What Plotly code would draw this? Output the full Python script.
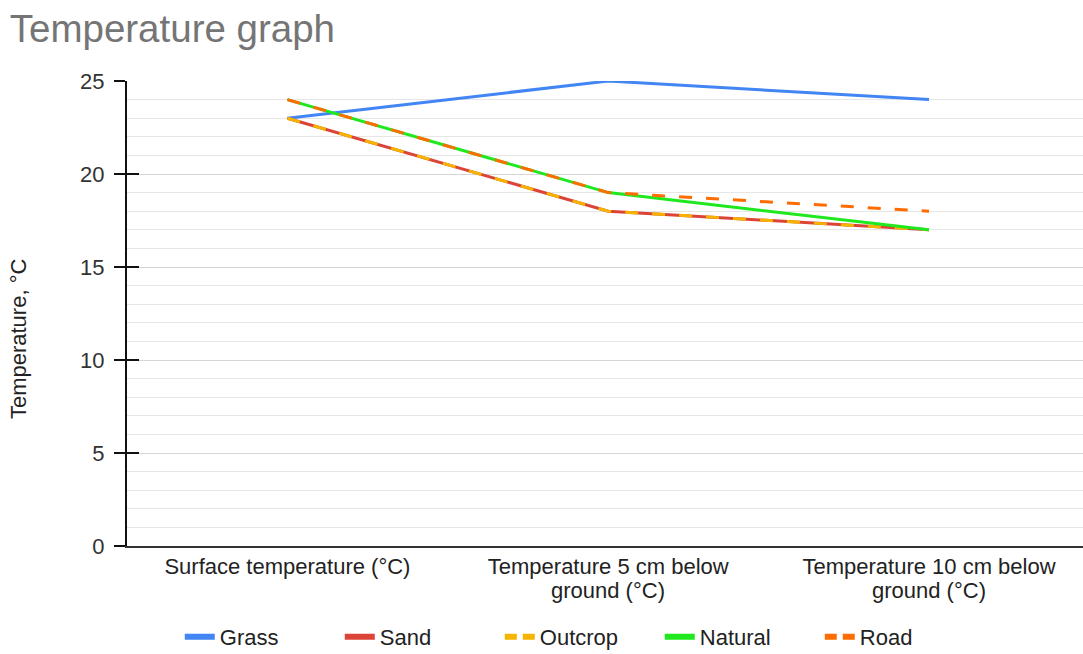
import plotly.graph_objects as go

categories = ["Surface temperature (°C)",
              "Temperature 5 cm below|ground (°C)",
              "Temperature 10 cm below|ground (°C)"]
series_names = ["Grass", "Sand", "Outcrop", "Natural", "Road"]
grass = [23, 25, 24]
sand = [23, 18, 17]
outcrop = [23, 18, 17]
natural = [24, 19, 17]
road = [24, 19, 18]
y_ticks = [0, 5, 10, 15, 20, 25]

values = [grass, sand, outcrop, natural, road]
colors = ["#4285F4", "#DB4437", "#F4B400", "#1FE81F", "#FF6D01"]
dashed = [False, False, True, False, True]

fig = go.Figure()
x_idx = list(range(len(categories)))
for name, vals, col, dsh in zip(series_names, values, colors, dashed):
    fig.add_trace(go.Scatter(
        x=x_idx, y=vals, name=name, mode="lines", showlegend=False,
        line=dict(color=col, width=3, dash="13px,14px" if dsh else "solid"),
    ))
# legend entries (thicker, shorter dash pattern like the reference legend)
for name, col, dsh in zip(series_names, colors, dashed):
    fig.add_trace(go.Scatter(
        x=[None], y=[None], name=name, mode="lines", showlegend=True,
        line=dict(color=col, width=6, dash="12px,6px" if dsh else "solid"),
    ))

# invisible trace on overlaying axis for inner tick marks
fig.add_trace(go.Scatter(x=[0], y=[0], yaxis="y2", mode="lines",
                         showlegend=False, hoverinfo="skip",
                         line=dict(width=0)))

first_lines = [c.split("|")[0] for c in categories]
second_lines = [c.split("|")[1] if "|" in c else "" for c in categories]

annotations = [dict(text="Temperature, °C", textangle=-90, xref="paper", yref="paper",
                    x=-0.114, y=0.445, xanchor="center", yanchor="middle",
                    showarrow=False, font=dict(size=22, color="#222222"))]
for i, t in enumerate(second_lines):
    if t:
        annotations.append(dict(text=t, x=i, xref="x", y=0, yref="paper",
                                yshift=-44, xanchor="center", yanchor="middle",
                                showarrow=False, font=dict(size=22, color="#222222")))

fig.update_layout(
    width=1083, height=654,
    margin=dict(l=127, r=0, t=81, b=108),
    paper_bgcolor="white", plot_bgcolor="white",
    font=dict(family="Liberation Sans, Arial, sans-serif", size=22, color="#222222"),
    title=dict(text="Temperature graph", x=0.009, xanchor="left", y=0.957, yanchor="middle",
               font=dict(family="Liberation Sans, Arial, sans-serif", size=38.5, color="#757575")),
    xaxis=dict(
        tickmode="array", tickvals=x_idx, ticktext=first_lines,
        range=[-0.5, 2.48], showgrid=False, zeroline=False,
        showline=True, linecolor="#333333", linewidth=2,
        ticks="", tickfont=dict(size=22, color="#222222"),
    ),
    yaxis=dict(
        range=[0, 25], tickvals=y_ticks, showgrid=True,
        gridcolor="#D6D6D6", gridwidth=1,
        minor=dict(dtick=1, showgrid=True, gridcolor="#E6E6E6", gridwidth=1),
        zeroline=False, showline=True, linecolor="#111111", linewidth=2,
        ticks="outside", ticklen=11, tickwidth=2, tickcolor="#111111",
        tickfont=dict(size=22, color="#333333"), ticklabelstandoff=5,
    ),
    yaxis2=dict(
        overlaying="y", range=[0, 25], tickvals=y_ticks, showticklabels=False,
        showgrid=False, zeroline=False, ticks="inside", ticklen=12, tickwidth=2,
        tickcolor="#111111", side="left",
    ),
    legend=dict(orientation="h", xref="container", x=0.166, xanchor="left",
                yref="container", y=0.026, yanchor="middle",
                entrywidth=115, entrywidthmode="pixels",
                font=dict(size=22, color="#222222"),
                bgcolor="rgba(0,0,0,0)"),
    annotations=annotations,
    showlegend=True,
)

fig.write_html("out.html")
